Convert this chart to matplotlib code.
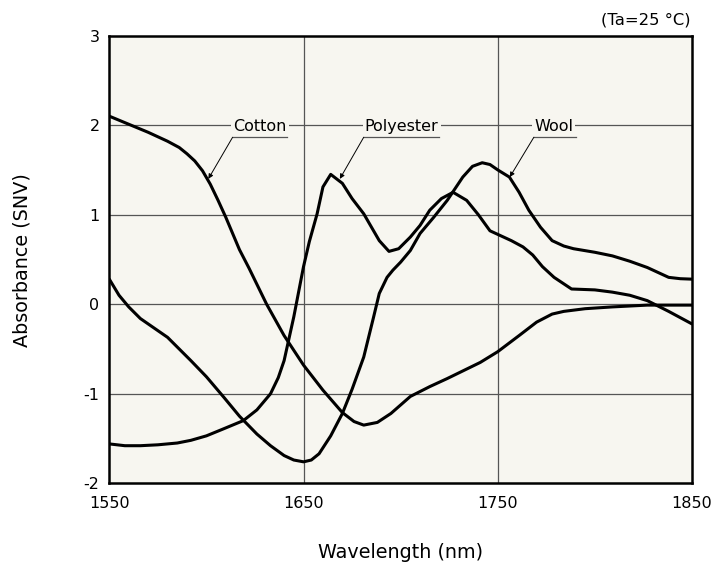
"""NIR absorbance spectra (SNV) of cotton, polyester and wool fibres"""

import matplotlib.pyplot as plt

BG = "#f7f6f0"
GRID = "#555555"

plt.rcParams["axes.unicode_minus"] = False

# wavelength (nm) / absorbance (SNV) for each fibre
cotton_nm = [1550, 1560, 1570, 1580, 1586, 1590, 1594, 1598, 1602, 1606,
             1610, 1617, 1622, 1631, 1640, 1650, 1660, 1670, 1676, 1681,
             1688, 1695, 1705, 1715, 1724, 1741, 1750, 1761, 1770, 1778,
             1784, 1795, 1809, 1827, 1840, 1850]
cotton_abs = [2.10, 2.01, 1.92, 1.82, 1.75, 1.68, 1.60, 1.49, 1.34, 1.16,
              0.97, 0.61, 0.40, 0.00, -0.35, -0.68, -0.96, -1.21, -1.31, -1.35,
              -1.32, -1.22, -1.03, -0.92, -0.83, -0.65, -0.53, -0.35, -0.20, -0.11,
              -0.08, -0.05, -0.03, -0.01, -0.01, -0.01]

polyester_nm = [1550, 1558, 1566, 1575, 1585, 1592, 1600, 1609, 1619, 1626,
                1633, 1637, 1640, 1645, 1650, 1653, 1657, 1660, 1664, 1670,
                1675, 1681, 1689, 1694, 1699, 1705, 1710, 1715, 1721, 1727,
                1734, 1740, 1746, 1751, 1757, 1763, 1768, 1773, 1779, 1788,
                1800, 1809, 1818, 1827, 1838, 1850]
polyester_abs = [-1.56, -1.58, -1.58, -1.57, -1.55, -1.52, -1.47, -1.39, -1.30, -1.18,
                 -1.00, -0.82, -0.63, -0.14, 0.42, 0.70, 1.01, 1.31, 1.45, 1.35,
                 1.18, 1.01, 0.71, 0.59, 0.62, 0.75, 0.88, 1.05, 1.18, 1.25,
                 1.16, 1.00, 0.82, 0.77, 0.71, 0.64, 0.55, 0.42, 0.30, 0.17,
                 0.16, 0.135, 0.10, 0.04, -0.08, -0.22]

wool_nm = [1550, 1555, 1560, 1566, 1572, 1580, 1586, 1592, 1600, 1609,
           1617, 1626, 1633, 1640, 1645, 1650, 1654, 1658, 1664, 1670,
           1675, 1681, 1686, 1689, 1693, 1696, 1700, 1705, 1710, 1717,
           1724, 1732, 1737, 1742, 1746, 1750, 1756, 1761, 1766, 1772,
           1778, 1784, 1789, 1800, 1809, 1818, 1827, 1838, 1844, 1850]
wool_abs = [0.28, 0.10, -0.03, -0.16, -0.25, -0.37, -0.50, -0.63, -0.81, -1.04,
            -1.25, -1.45, -1.58, -1.69, -1.74, -1.76, -1.74, -1.67, -1.47, -1.22,
            -0.95, -0.59, -0.15, 0.12, 0.30, 0.38, 0.47, 0.60, 0.79, 0.97,
            1.16, 1.42, 1.54, 1.58, 1.56, 1.50, 1.42, 1.25, 1.05, 0.86,
            0.71, 0.65, 0.62, 0.58, 0.54, 0.48, 0.41, 0.30, 0.285, 0.28]

x_ticks = [1550, 1650, 1750, 1850]
y_ticks = [-2, -1, 0, 1, 2, 3]

# label text, text centre, underline span, arrow tip
labels = [
    ("Cotton", (1627.6, 1.98), (1613.5, 1641.6), (1601, 1.40)),
    ("Polyester", (1700.5, 1.98), (1681.0, 1720.0), (1668.7, 1.40)),
    ("Wool", (1778.9, 1.98), (1768.6, 1790.2), (1756.2, 1.42)),
]
underline_y = 1.865


def draw_chart():
    fig = plt.figure(figsize=(7.13, 5.74), dpi=100)
    fig.patch.set_facecolor("white")
    ax = fig.add_axes([0.1533, 0.158, 0.8172, 0.780])
    ax.set_facecolor(BG)

    ax.set_xlim(1550, 1850)
    ax.set_ylim(-2, 3)
    ax.set_xticks(x_ticks)
    ax.set_yticks(y_ticks)
    ax.tick_params(length=0, labelsize=11.5)
    ax.tick_params(axis="x", pad=9)
    ax.tick_params(axis="y", pad=7)

    for v in [1650, 1750]:
        ax.axvline(v, color=GRID, lw=0.9, zorder=1)
    for v in [-1, 0, 1, 2]:
        ax.axhline(v, color=GRID, lw=0.9, zorder=1)

    for s in ax.spines.values():
        s.set_linewidth(1.8)
        s.set_color("black")
        s.set_zorder(5)

    for xs, ys in [(cotton_nm, cotton_abs), (polyester_nm, polyester_abs),
                   (wool_nm, wool_abs)]:
        ax.plot(xs, ys, color="black", lw=2.2, solid_joinstyle="round",
                solid_capstyle="round", zorder=3)

    for text, (tx, ty), (u0, u1), tip in labels:
        ax.text(tx, ty, text, ha="center", va="center", fontsize=11.5,
                bbox=dict(facecolor=BG, edgecolor="none", pad=1.5), zorder=4)
        ax.plot([u0, u1], [underline_y, underline_y], color=GRID, lw=0.9,
                zorder=4)
        ax.annotate("", xy=tip, xytext=(u0, underline_y),
                    arrowprops=dict(arrowstyle="-|>", color="black", lw=0.7,
                                    mutation_scale=7, shrinkA=0, shrinkB=0),
                    zorder=4)

    # axis titles placed in figure coordinates
    fig.text(0.5625, 1 - 553 / 574, "Wavelength (nm)", ha="center",
             va="center", fontsize=13.8)
    fig.text(22 / 713, 1 - 260 / 574, "Absorbance (SNV)", ha="center",
             va="center", rotation=90, fontsize=13.8)
    fig.text(0.968, 0.965, "(Ta=25 °C)", ha="right", va="center", fontsize=11.8)

    fig.savefig("out.png", dpi=100, facecolor="white")


if __name__ == "__main__":
    draw_chart()
